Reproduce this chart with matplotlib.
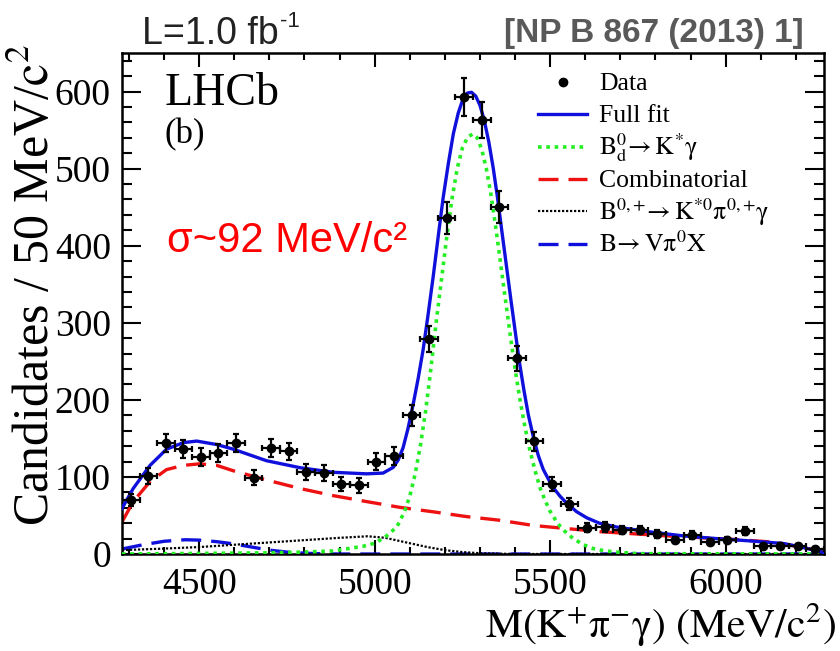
import numpy as np
import matplotlib
matplotlib.use('Agg')
import matplotlib.pyplot as plt
from matplotlib.ticker import MultipleLocator

plt.rcParams['font.family'] = 'Liberation Serif'
plt.rcParams['mathtext.fontset'] = 'stix'

# binned data, 50 MeV bins starting at 4280
bin_lo = 4280
bin_w = 50
counts = [70, 101, 144, 136, 126, 131, 144, 99, 137, 133,
          106, 105, 91, 89, 120, 127, 180, 279, 436, 593,
          563, 450, 254, 146, 91, 65, 34, 35, 31, 31,
          26, 18, 25, 16, 18, 30, 10, 11, 10, 6]

# fit curves
fit_x = [4280, 4312, 4360, 4407, 4455, 4493, 4550, 4597, 4692, 4787, 4882, 4977, 5024, 5053,
         5067, 5081, 5095, 5110, 5124, 5138, 5152, 5167, 5181, 5195, 5210, 5224, 5238, 5252,
         5264, 5276, 5288, 5300, 5312, 5325, 5338, 5350, 5362, 5375, 5388, 5400, 5412, 5425,
         5438, 5452, 5466, 5480, 5495, 5509, 5528, 5547, 5575, 5604, 5640, 5689, 5784, 5879,
         5974, 6069, 6165, 6212, 6280]
fit_y = [59, 85, 115, 136, 144.5, 146.5, 142, 136, 121, 112, 106, 104, 105, 112.5,
         122, 138, 163, 195, 228, 265, 310, 361, 412, 462, 507, 545, 572, 591,
         598, 599, 594, 582, 563, 535, 500, 462, 420, 375, 330, 290, 250, 213,
         180, 152, 128, 110, 97, 86, 75, 66, 55, 47, 40, 35, 28.7, 23.5,
         20, 17, 13.6, 9.3, 2]

sig_x = [4280, 4700, 4800, 4881, 4967, 5000, 5030, 5063, 5085, 5100, 5115, 5130, 5145, 5160,
         5175, 5190, 5205, 5220, 5235, 5250, 5265, 5280, 5292, 5305, 5318, 5330, 5343, 5357,
         5371, 5385, 5400, 5414, 5428, 5442, 5457, 5471, 5485, 5499, 5514, 5528, 5547, 5566,
         5595, 5623, 5656, 5689, 5750, 6280]
sig_y = [0, 1.5, 2.5, 4, 10, 14, 22, 35, 55, 75, 103, 140, 185, 240,
         300, 355, 410, 460, 500, 527, 541, 545, 540, 525, 500, 470, 430, 383,
         335, 288, 240, 200, 165, 135, 108, 86, 70, 56, 45, 36, 27, 20,
         12, 7, 4, 2.5, 0.5, 0]

comb_x = [4280, 4312, 4360, 4407, 4455, 4502, 4550, 4597, 4692, 4787, 4882, 4977, 5072,
          5167, 5262, 5356, 5452, 5642, 5832, 6022, 6117, 6165, 6212, 6250, 6280]
comb_y = [41.5, 68, 94, 109.5, 115, 117, 115, 108, 96, 85, 75.7, 68, 60.5,
          54.7, 48.5, 43.8, 37, 29, 23.5, 19, 16, 13, 9, 6, 3]

kpi_x = [4280, 4400, 4500, 4600, 4700, 4800, 4900, 4980, 5030, 5080, 5150, 5200, 5250, 5300, 5400, 6280]
kpi_y = [5, 7, 9, 12, 15, 18, 21, 23, 21, 16, 9, 5, 2.5, 1, 0, 0]

vpi_x = [4280, 4340, 4400, 4460, 4500, 4550, 4600, 4650, 4700, 4750, 4800, 4850, 4900, 6280]
vpi_y = [6.5, 12, 16.5, 18.5, 18, 16, 13, 9, 5, 2.5, 1, 0.3, 0, 0]

centers = bin_lo + bin_w / 2 + bin_w * np.arange(len(counts))
errs = np.sqrt(counts)  # poisson

fig = plt.figure(figsize=(8.4, 6.51), dpi=100)
ax = fig.add_axes([0.1452, 0.149, 0.8357, 0.7696])

blue = '#1010dd'
styles = {
    'fit': dict(color=blue, lw=2.4),
    'sig': dict(color='#22ee22', lw=2.6, ls=(0, (1, 1.3))),
    'comb': dict(color='#ee1111', lw=2.4, dashes=(6, 3)),
    'kpi': dict(color='k', lw=1.6, ls=(0, (1, 0.8))),
    'vpi': dict(color=blue, lw=2.4, dashes=(6, 3)),
}
ax.plot(vpi_x, vpi_y, zorder=2, **styles['vpi'])
ax.plot(kpi_x, kpi_y, zorder=2, **styles['kpi'])
ax.plot(comb_x, comb_y, zorder=2, **styles['comb'])
ax.plot(sig_x, sig_y, zorder=3, **styles['sig'])
ax.plot(fit_x, fit_y, zorder=4, **styles['fit'])
ax.errorbar(centers, counts, xerr=bin_w / 2, yerr=errs, fmt='o', color='k', ms=6,
            elinewidth=1.6, capsize=2.5, capthick=1.6, zorder=5)

ax.set_xlim(4280, 6280)
ax.set_ylim(0, 650)
ax.xaxis.set_major_locator(MultipleLocator(500))
ax.xaxis.set_minor_locator(MultipleLocator(100))
ax.yaxis.set_major_locator(MultipleLocator(100))
ax.yaxis.set_minor_locator(MultipleLocator(20))
ax.tick_params(which='both', direction='in', top=True, right=True, width=1.5, labelsize=27)
ax.tick_params(axis='x', which='major', length=10, pad=10)
ax.tick_params(axis='x', which='minor', length=5)
ax.tick_params(axis='y', which='major', length=14, pad=8)
ax.tick_params(axis='y', which='minor', length=7)
for s in ax.spines.values():
    s.set_linewidth(1.8)

ax.set_xlabel(r'$\mathrm{M(K^{+}\pi^{-}\gamma)\ (MeV/c^{2})}$', fontsize=30, ha='right')
ax.xaxis.set_label_coords(1.017, -0.095)
ax.set_ylabel(r'Candidates / 50 MeV/$\mathrm{c^{2}}$', fontsize=36, ha='right')
ax.yaxis.set_label_coords(-0.088, 1.018)

# legend drawn by hand so the rows are evenly spaced
leg_labels = ['Data', 'Full fit', r'$\mathrm{B^{0}_{d}\!\rightarrow K^{*}\gamma}$', 'Combinatorial',
              r'$\mathrm{B^{0,{+}}\!\rightarrow K^{*0}\pi^{0,{+}}\gamma}$', r'$\mathrm{B\!\rightarrow V\pi^{0}X}$']
leg_keys = [None, 'fit', 'sig', 'comb', 'kpi', 'vpi']
y0, dy = 0.9427, 0.0647
for i, (lab, key) in enumerate(zip(leg_labels, leg_keys)):
    y = y0 - i * dy
    if key is None:
        ax.plot([0.6278], [y], 'o', color='k', ms=6, transform=ax.transAxes)
    else:
        ax.plot([0.5926, 0.6624], [y, y], transform=ax.transAxes, **styles[key])
    ax.text(0.6795, y - 0.0166, lab, transform=ax.transAxes, fontsize=18.5, va='baseline')

ax.text(0.061, 0.896, 'LHCb', transform=ax.transAxes, fontsize=33, va='baseline')
ax.text(0.061, 0.820, '(b)', transform=ax.transAxes, fontsize=25, va='baseline')
ax.text(0.064, 0.603, 'σ~92 MeV/c²', transform=ax.transAxes, fontsize=30, va='baseline',
        color='#ff0000', family=['Liberation Sans', 'DejaVu Sans'])

sans = ['Liberation Sans Narrow', 'Liberation Sans']
lum = fig.text(142 / 840, 1 - 44 / 651, 'L=1.0 fb', fontsize=27, va='baseline',
               color='#222222', family=sans)
fig.canvas.draw()
bb = lum.get_window_extent()
fig.text(bb.x1 / 840 + 0.002, 1 - 27 / 651, '-1', fontsize=16, va='baseline',
         color='#222222', family=sans)
fig.text(804 / 840, 1 - 42 / 651, '[NP B 867 (2013) 1]', fontsize=24, va='baseline', ha='right',
         color='#595959', fontweight='bold', family=sans)

fig.savefig('out.png', dpi=100)
